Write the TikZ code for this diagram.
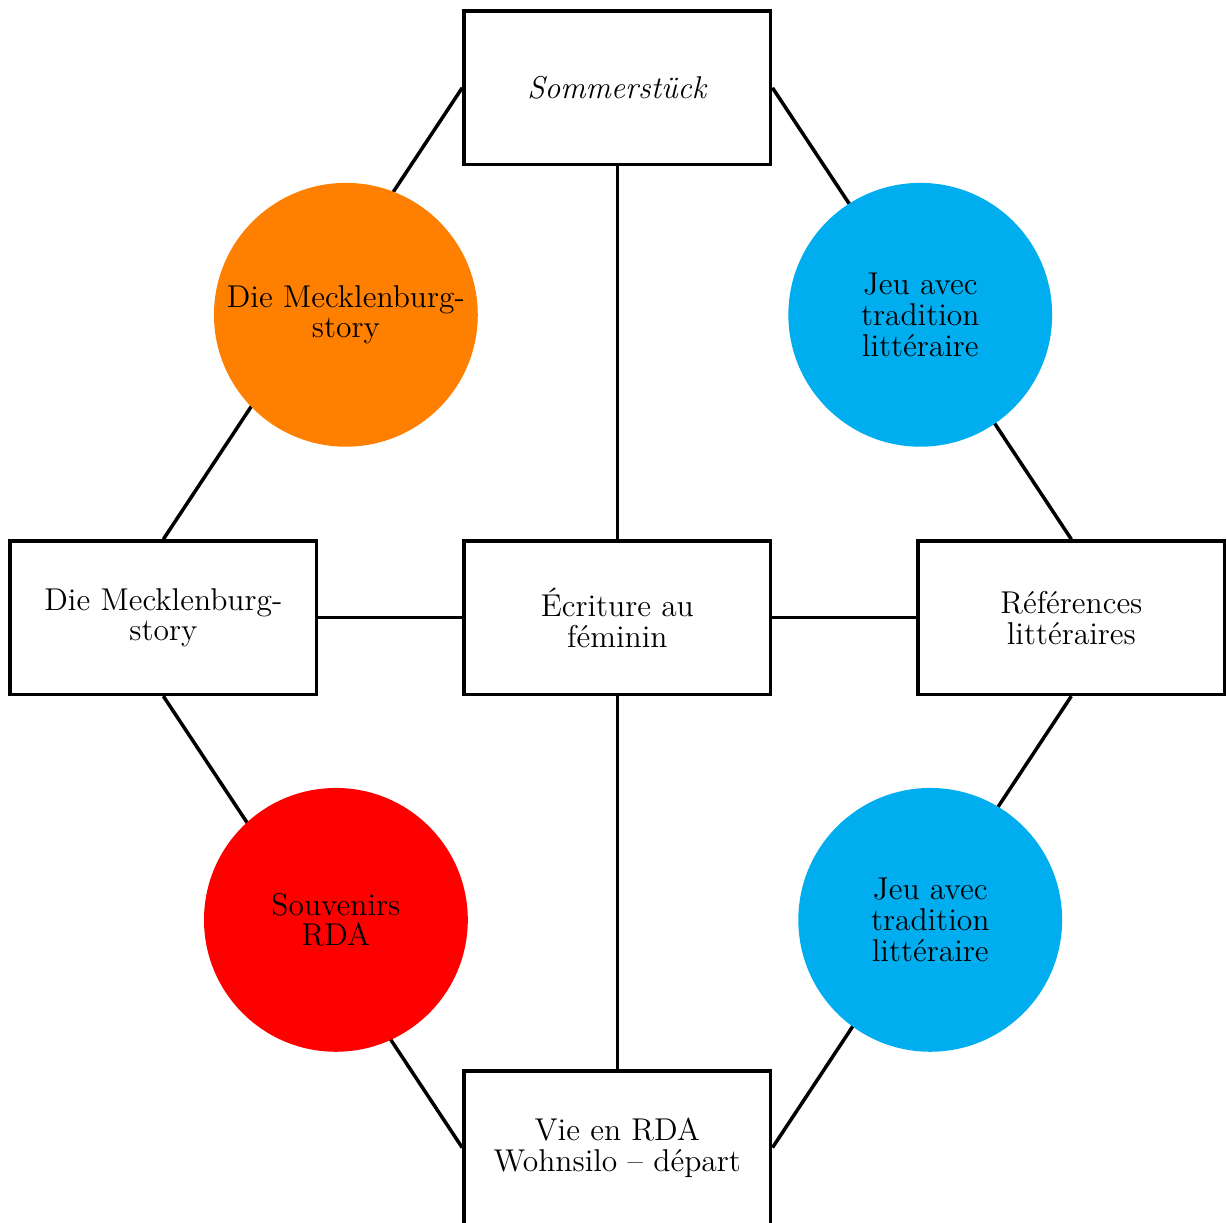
\documentclass[tikz,border=0pt]{standalone}
\usepackage{xcolor}

\definecolor{jeublue}{RGB}{0,174,239}
\definecolor{mecklorange}{RGB}{255,128,0}

\begin{document}
\begin{tikzpicture}[
  font=\fontsize{11.7}{11.4}\selectfont,
  boite/.style={draw,line width=1.3pt,minimum width=4cm,minimum height=2cm,align=center},
  rond/.style={circle,minimum size=3.44cm,inner sep=0pt,align=center},
  lien/.style={line width=1.3pt}]
\useasboundingbox (0,0) rectangle (16,15.935);

 \node[boite] (som) at (8.05,14.79) {\textit{Sommerstück}};
 \node[boite] (meck) at (2.13,7.88) {Die Mecklenburg-\\story};
 \node[boite] (ecr) at (8.05,7.88) {Écriture au\\féminin};
 \node[boite] (ref) at (13.97,7.88) {Références\\littéraires};
 \node[boite] (vie) at (8.05,0.97) {Vie en RDA\\Wohnsilo -- départ};

 \draw[lien] (som.west)--(meck.north);
 \draw[lien] (som.east)--(ref.north);
 \draw[lien] (meck.south)--(vie.west);
 \draw[lien] (ref.south)--(vie.east);
 \draw[lien] (som.south)--(ecr.north);
 \draw[lien] (ecr.south)--(vie.north);
 \draw[lien] (meck.east)--(ecr.west);
 \draw[lien] (ecr.east)--(ref.west);

 \node[rond,fill=mecklorange] (story) at (4.51,11.83) {Die Mecklenburg-\\story};
 \node[rond,fill=jeublue] (jeuhaut) at (12.00,11.83) {Jeu avec\\tradition\\littéraire};
 \node[rond,fill=red] (souv) at (4.38,3.94) {Souvenirs\\RDA};
 \node[rond,fill=jeublue] (jeubas) at (12.13,3.94) {Jeu avec\\tradition\\littéraire};

\end{tikzpicture}
\end{document}
